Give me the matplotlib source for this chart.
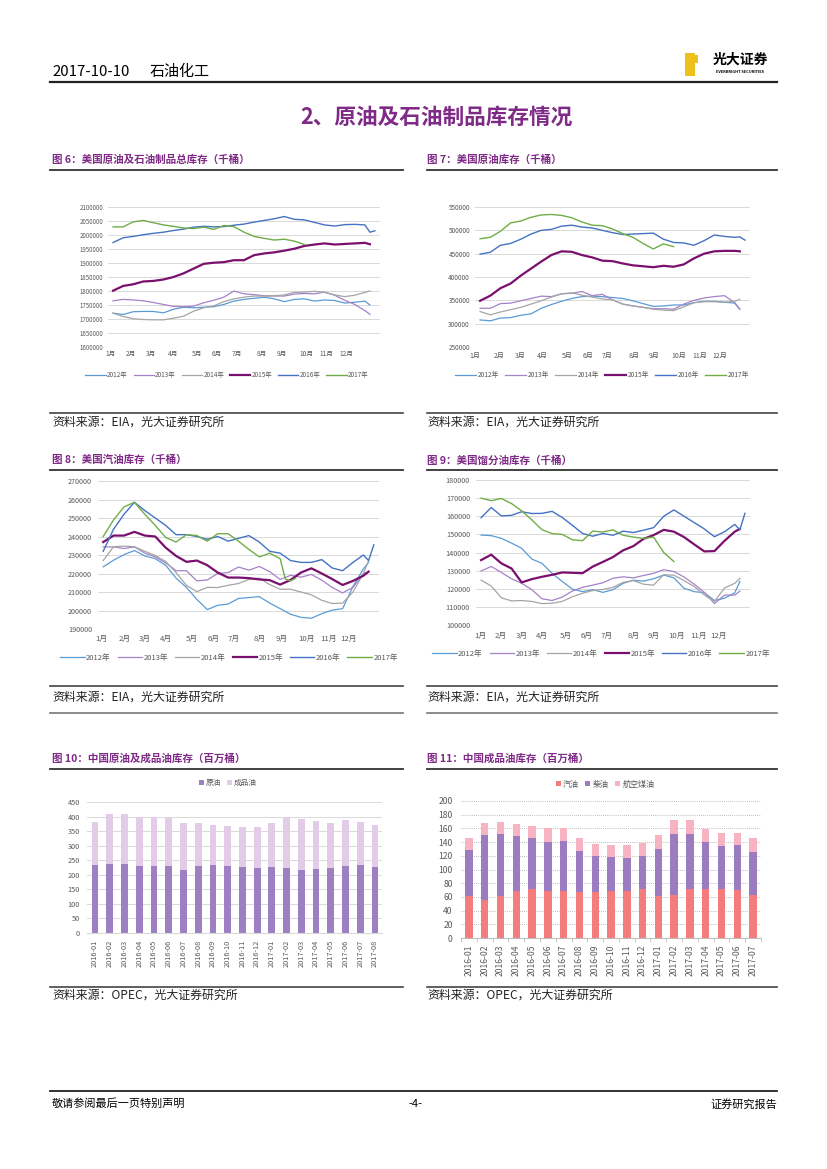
import matplotlib
matplotlib.use('Agg')
import matplotlib.pyplot as plt
from matplotlib.lines import Line2D
from matplotlib.patches import Rectangle
from matplotlib.ticker import FuncFormatter

plt.rcParams['font.family'] = ['Noto Sans CJK SC', 'DejaVu Sans']

# ---------------- data ----------------
years = ['2012年', '2013年', '2014年', '2015年', '2016年', '2017年']
months = ['1月', '2月', '3月', '4月', '5月', '6月', '7月', '8月', '9月', '10月', '11月', '12月']

# week index of each plotted point (biweekly reading of the weekly series)
weeks_old = [0, 2, 4, 6, 8, 10, 12, 14, 16, 18, 20, 22, 24, 26, 28, 30, 32, 34, 36, 38,
             40, 42, 44, 46, 48, 50, 51]
weeks_2016 = weeks_old + [52]
weeks_2017 = [0, 2, 4, 6, 8, 10, 12, 14, 16, 18, 20, 22, 24, 26, 28, 30, 32, 34, 36, 38]
weeks_2017_gas = [0, 2, 4, 6, 8, 10, 12, 14, 16, 18, 20, 22, 24, 26, 28, 30, 32, 34, 35, 36, 37]

# 图6 total stocks (千桶)
total_2012 = [1721000, 1716000, 1726000, 1727000, 1727000, 1722000, 1735000, 1742000, 1740000, 1742000,
              1744000, 1752000, 1764000, 1770000, 1774000, 1778000, 1772000, 1762000, 1770000, 1772000,
              1764000, 1768000, 1766000, 1757000, 1760000, 1764000, 1750000]
total_2013 = [1765000, 1770000, 1768000, 1765000, 1759000, 1752000, 1745000, 1744000, 1746000, 1758000,
              1767000, 1778000, 1800000, 1790000, 1787000, 1783000, 1782000, 1782000, 1789000, 1791000,
              1790000, 1796000, 1785000, 1767000, 1752000, 1730000, 1717000]
total_2014 = [1721000, 1709000, 1701000, 1698000, 1697000, 1697000, 1703000, 1710000, 1728000, 1740000,
              1747000, 1762000, 1772000, 1778000, 1782000, 1782000, 1783000, 1786000, 1795000, 1796000,
              1799000, 1795000, 1786000, 1780000, 1785000, 1795000, 1800000]
total_2015 = [1801000, 1818000, 1824000, 1834000, 1836000, 1841000, 1850000, 1863000, 1880000, 1897000,
              1901000, 1903000, 1910000, 1910000, 1928000, 1934000, 1938000, 1944000, 1951000, 1961000,
              1966000, 1970000, 1966000, 1968000, 1970000, 1972000, 1967000]
total_2016 = [1973000, 1990000, 1995000, 2001000, 2006000, 2010000, 2016000, 2021000, 2028000, 2031000,
              2029000, 2030000, 2035000, 2039000, 2046000, 2052000, 2058000, 2066000, 2056000, 2054000,
              2045000, 2036000, 2032000, 2037000, 2038000, 2036000, 2010000, 2015000]
total_2017 = [2029000, 2029000, 2047000, 2052000, 2044000, 2036000, 2031000, 2025000, 2023000, 2028000,
              2020000, 2034000, 2030000, 2010000, 1995000, 1988000, 1982000, 1985000, 1978000, 1966000]

# 图7 crude stocks (千桶)
crude_2012 = [308000, 306000, 312000, 313000, 318000, 321000, 333000, 341000, 348000, 354000,
              358000, 359000, 358000, 356000, 354000, 349000, 343000, 337000, 338000, 340000,
              340000, 345000, 348000, 348000, 346000, 344000, 331000]
crude_2013 = [333000, 333000, 343000, 344000, 349000, 354000, 359000, 358000, 364000, 365000,
              369000, 360000, 363000, 351000, 342000, 338000, 335000, 332000, 332000, 331000,
              342000, 350000, 355000, 358000, 360000, 345000, 331000]
crude_2014 = [326000, 319000, 325000, 330000, 335000, 342000, 349000, 357000, 364000, 366000,
              361000, 357000, 353000, 351000, 342000, 338000, 335000, 331000, 329000, 328000,
              336000, 345000, 347000, 347000, 346000, 348000, 352000]
crude_2015 = [349000, 360000, 376000, 386000, 403000, 418000, 433000, 447000, 455000, 454000,
              447000, 442000, 435000, 434000, 429000, 425000, 423000, 421000, 424000, 422000,
              427000, 440000, 450000, 455000, 456000, 456000, 455000]
crude_2016 = [449000, 453000, 468000, 472000, 481000, 492000, 500000, 502000, 509000, 511000,
              507000, 505000, 500000, 495000, 491000, 492000, 493000, 494000, 481000, 474000,
              473000, 468000, 478000, 490000, 487000, 485000, 486000, 479000]
crude_2017 = [482000, 485000, 498000, 516000, 520000, 528000, 533000, 534000, 532000, 527000,
              518000, 511000, 510000, 503000, 493000, 485000, 472000, 460000, 471000, 465000]

# 图8 gasoline stocks (千桶)
gas_2012 = [223600, 227200, 230200, 232400, 229500, 228000, 224500, 217500, 212500, 206000,
            200500, 202800, 203500, 206500, 207000, 207500, 204000, 201000, 198000, 196300,
            195800, 198300, 200200, 201000, 213000, 222500, 226000]
gas_2013 = [234400, 234400, 233500, 234400, 231000, 229000, 225800, 221500, 221500, 216000,
            216500, 220000, 220500, 223500, 221800, 223800, 221000, 216800, 219000, 218000,
            219500, 216400, 212500, 209500, 212500, 220000, 221000]
gas_2014 = [227000, 234500, 234800, 234500, 232000, 229700, 226500, 220500, 213600, 210200,
            212500, 212400, 213600, 214600, 216800, 217500, 214000, 211500, 211500, 210000,
            208500, 205500, 203800, 204000, 210000, 220000, 227000]
gas_2015 = [237000, 240500, 240500, 242500, 240500, 240000, 234000, 229500, 226300, 227000,
            224500, 220500, 217800, 217800, 217500, 216800, 216400, 214000, 216500, 220500,
            222800, 220000, 217000, 213800, 216000, 218800, 221000]
gas_2016 = [232000, 244000, 252000, 258500, 254000, 250000, 246000, 241000, 241000, 240000,
            238500, 240000, 237500, 239000, 240500, 237000, 232000, 231000, 227000, 226000,
            226000, 227500, 223000, 221500, 226000, 230000, 227000, 235500]
gas_2017 = [240000, 249000, 256000, 258500, 252000, 246000, 239500, 237000, 241000, 240500,
            237500, 241500, 241500, 237500, 233000, 229000, 231000, 228000, 217000, 216000, 217500]

# 图9 distillate stocks (千桶)
dist_2012 = [149600, 149300, 147800, 145200, 142300, 136400, 134000, 128500, 124000, 119800,
             118400, 119500, 118000, 119500, 123000, 124700, 124200, 125500, 127600, 126000,
             120300, 118400, 117800, 113500, 114800, 117800, 124000]
dist_2013 = [129800, 132300, 129000, 125500, 123000, 119500, 114500, 113500, 115400, 118800,
             120800, 122000, 123300, 125800, 126600, 126000, 127300, 128500, 130500, 129500,
             126500, 122500, 118000, 111800, 116500, 116500, 118700]
dist_2014 = [124800, 121500, 115000, 113300, 113500, 113000, 111800, 112000, 113000, 115600,
             117500, 119000, 119600, 120800, 123500, 124500, 122500, 122000, 127700, 127500,
             124500, 121200, 116500, 113000, 120500, 123000, 125700]
dist_2015 = [135800, 138800, 134000, 131200, 123500, 125300, 126600, 127700, 129000, 128800,
             128600, 132200, 134800, 137500, 141200, 143500, 147500, 149600, 152500, 151500,
             148500, 144500, 140600, 140800, 146500, 151500, 153000]
dist_2016 = [159200, 164800, 160200, 160500, 162500, 161500, 161600, 162700, 159300, 155000,
             150500, 149000, 150500, 149500, 151800, 151000, 152300, 153700, 160000, 163500,
             160000, 156500, 153000, 148700, 151500, 155500, 152500, 161600]
dist_2017 = [170000, 168600, 169800, 167000, 163000, 158000, 152600, 150400, 150000, 147000,
             146500, 151800, 151300, 152500, 149500, 148500, 147800, 148500, 140000, 135000]

# 图10 China crude / product stocks (百万桶)
cn_months = ['2016-01', '2016-02', '2016-03', '2016-04', '2016-05', '2016-06', '2016-07', '2016-08',
             '2016-09', '2016-10', '2016-11', '2016-12', '2017-01', '2017-02', '2017-03', '2017-04',
             '2017-05', '2017-06', '2017-07', '2017-08']
cn_crude = [233, 237, 237, 230, 230, 230, 216, 230, 233, 230, 227, 223, 227, 223, 216, 220, 223, 230, 233, 227]
cn_products = [147, 171, 171, 167, 167, 164, 163, 147, 139, 137, 136, 140, 150, 174, 175, 164, 154, 157, 147, 143]

# 图11 China product stocks by type (百万桶)
prod_months = cn_months[:19]
prod_gasoline = [61, 56, 62, 69, 71, 69, 68, 67, 67, 68, 68, 72, 62, 63, 71, 71, 71, 70, 63]
prod_diesel = [68, 94.5, 90, 80, 75, 71.3, 73.7, 60.2, 53, 50.4, 49, 48, 68, 89, 81, 69.3, 63.5, 66, 62.7]
prod_jet = [17.4, 17.5, 17.4, 17.5, 17.6, 20.4, 19, 18.8, 17.4, 17.6, 19, 18.8, 20.5, 20.3, 20.3, 18.9, 18.9, 17.4, 20.3]

# ---------------- style ----------------
W, H = 827, 1169
PURPLE = '#7E2A86'
GRAY_TXT = '#595959'
GRID = '#D9D9D9'
year_colors = ['#5B9BD5', '#A582C8', '#A5A5A5', '#7A0F6E', '#4472C4', '#70AD47']
year_widths = [0.9, 0.9, 0.9, 1.6, 1.0, 1.0]

fig = plt.figure(figsize=(W / 100, H / 100), dpi=100)


def box(l, t, r, b):
    return fig.add_axes([l / W, 1 - b / H, (r - l) / W, (b - t) / H])


def text(x, y, s, **kw):
    kw.setdefault('va', 'center')
    fig.text(x / W, 1 - y / H, s, **kw)


def hline(y, x0, x1, color='#333333', lw=1.2):
    fig.add_artist(Line2D([x0 / W, x1 / W], [1 - y / H, 1 - y / H], color=color, lw=lw))


def line_chart(rect, ylim, step, series, month_pos, xpad, ypad, fs, leg_xy, leg_fs):
    ax = box(*rect)
    handles = []
    for (name, wk, vals), c, lw in zip(series, year_colors, year_widths):
        h, = ax.plot(wk, vals, color=c, lw=lw, label=name, solid_joinstyle='round')
        handles.append(h)
    ax.set_xlim(-1, 53)
    ax.set_ylim(*ylim)
    ax.set_yticks(range(ylim[0], ylim[1] + 1, step))
    ax.yaxis.set_major_formatter(FuncFormatter(lambda v, p: '%d' % v))
    ax.set_xticks(month_pos)
    ax.set_xticklabels(months)
    ax.grid(axis='y', color=GRID, lw=0.7)
    ax.set_axisbelow(True)
    for s in ax.spines.values():
        s.set_visible(False)
    ax.tick_params(axis='y', length=0, pad=ypad, labelsize=fs, labelcolor=GRAY_TXT)
    ax.tick_params(axis='x', length=0, pad=xpad, labelsize=fs + 0.4, labelcolor=GRAY_TXT)
    fig.legend(handles=handles, loc='center', bbox_to_anchor=(leg_xy[0] / W, 1 - leg_xy[1] / H),
               ncol=6, frameon=False, fontsize=leg_fs, handlelength=3.2, handletextpad=0.2,
               columnspacing=0.9, labelcolor=GRAY_TXT)
    return ax


# ---------------- page header ----------------
text(52, 72, '2017-10-10', fontsize=10.8, color='black')
text(150, 72, '石油化工', fontsize=10.8, color='black')
hline(82, 50, 777, color='#222222', lw=1.6)
fig.add_artist(Rectangle((685 / W, 1 - 76 / H), 10 / W, 23 / H, color='#EDC01C', lw=0))
fig.add_artist(Rectangle((695 / W, 1 - 63 / H), 3 / W, 8 / H, color='#EDC01C', lw=0))
text(740, 60, '光大证券', fontsize=10, fontweight='bold', ha='center', color='black')
text(740, 72, 'EVERBRIGHT SECURITIES', fontsize=2.8, fontweight='bold', ha='center', color='black')

text(436, 117, '2、原油及石油制品库存情况', fontsize=15.6, fontweight='bold', ha='center', color=PURPLE)

# ---------------- titles, rules, sources ----------------
titles = [(52, 160, '图 6：美国原油及石油制品总库存（千桶）'),
          (427, 160, '图 7：美国原油库存（千桶）'),
          (52, 460, '图 8：美国汽油库存（千桶）'),
          (427, 460, '图 9：美国馏分油库存（千桶）'),
          (52, 759, '图 10：中国原油及成品油库存（百万桶）'),
          (427, 759, '图 11：中国成品油库存（百万桶）')]
for x, y, s in titles:
    text(x, y, s, fontsize=7.6, fontweight='bold', color=PURPLE)

for y in (170, 470, 769):
    hline(y, 50, 403, color='#333333', lw=1.3)
    hline(y, 427, 777, color='#333333', lw=1.3)
for y in (413, 686, 987):
    hline(y, 50, 403, color='#444444', lw=1.2)
    hline(y, 427, 777, color='#444444', lw=1.2)
hline(713, 50, 403, color='#777777', lw=1.2)
hline(713, 427, 777, color='#777777', lw=1.2)

for y, src in ((422, '资料来源：EIA，光大证券研究所'), (697, '资料来源：EIA，光大证券研究所'),
               (995, '资料来源：OPEC，光大证券研究所')):
    text(52, y, src, fontsize=8.6, color='#222222')
    text(427, y, src, fontsize=8.6, color='#222222')

# ---------------- line charts ----------------
line_chart((108, 207, 380, 347), (1600000, 2100000), 50000,
           [(years[0], weeks_old, total_2012), (years[1], weeks_old, total_2013),
            (years[2], weeks_old, total_2014), (years[3], weeks_old, total_2015),
            (years[4], weeks_2016, total_2016), (years[5], weeks_2017, total_2017)],
           [-0.5, 3.6, 7.6, 11.9, 16.6, 20.5, 24.5, 29.5, 33.5, 38.4, 42.4, 46.4],
           2.0, 3.6, 4.4, (227, 375), 4.6)

line_chart((475, 207, 750, 347), (250000, 550000), 50000,
           [(years[0], weeks_old, crude_2012), (years[1], weeks_old, crude_2013),
            (years[2], weeks_old, crude_2014), (years[3], weeks_old, crude_2015),
            (years[4], weeks_2016, crude_2016), (years[5], weeks_2017, crude_2017)],
           [-1, 3.8, 7.9, 12.2, 17.1, 21.1, 25, 30.3, 34.2, 39.1, 43.1, 47.1],
           3.5, 3.6, 4.6, (602, 375), 4.8)

line_chart((98, 481, 379, 629), (190000, 270000), 10000,
           [(years[0], weeks_old, gas_2012), (years[1], weeks_old, gas_2013),
            (years[2], weeks_old, gas_2014), (years[3], weeks_old, gas_2015),
            (years[4], weeks_2016, gas_2016), (years[5], weeks_2017_gas, gas_2017)],
           [-0.3, 4.2, 8, 12.1, 17, 21.2, 25, 30.1, 34.3, 39.1, 43.3, 47.1],
           4.2, 4.3, 5.2, (229, 658), 5.5)

line_chart((476, 480, 750, 625), (100000, 180000), 10000,
           [(years[0], weeks_old, dist_2012), (years[1], weeks_old, dist_2013),
            (years[2], weeks_old, dist_2014), (years[3], weeks_old, dist_2015),
            (years[4], weeks_2016, dist_2016), (years[5], weeks_2017, dist_2017)],
           [-0.2, 3.8, 8, 11.9, 16.6, 20.9, 24.8, 30.1, 34, 38.6, 42.9, 46.8],
           5.2, 4.3, 5.2, (601, 654), 5.5)

# ---------------- 图10 bars ----------------
ax10 = box(87, 802, 382, 933)
x10 = list(range(len(cn_months)))
b1 = ax10.bar(x10, cn_crude, width=0.46, color='#9C80C2', label='原油')
b2 = ax10.bar(x10, cn_products, width=0.46, bottom=cn_crude, color='#E3CCE8', label='成品油')
ax10.set_xlim(-0.54, 19.47)
ax10.set_ylim(0, 450)
ax10.set_yticks(range(0, 451, 50))
ax10.set_xticks(x10)
ax10.set_xticklabels(cn_months, rotation=90)
ax10.grid(axis='y', color=GRID, lw=0.7)
ax10.set_axisbelow(True)
for s in ('top', 'right', 'left'):
    ax10.spines[s].set_visible(False)
ax10.spines['bottom'].set_color(GRID)
ax10.tick_params(axis='y', length=0, pad=5, labelsize=5.3, labelcolor=GRAY_TXT)
ax10.tick_params(axis='x', length=0, pad=5, labelsize=5.3, labelcolor=GRAY_TXT)
fig.legend(handles=[b1, b2], loc='center', bbox_to_anchor=(228 / W, 1 - 783 / H), ncol=2,
           frameon=False, fontsize=5.5, handlelength=0.6, handleheight=0.6, handletextpad=0.3,
           columnspacing=0.8, labelcolor=GRAY_TXT)

# ---------------- 图11 bars ----------------
ax11 = box(461, 801, 761, 938)
x11 = list(range(len(prod_months)))
bottom_jet = [g + d for g, d in zip(prod_gasoline, prod_diesel)]
c1 = ax11.bar(x11, prod_gasoline, width=0.47, color='#F47C7C', label='汽油')
c2 = ax11.bar(x11, prod_diesel, width=0.47, bottom=prod_gasoline, color='#9B7CC1', label='柴油')
c3 = ax11.bar(x11, prod_jet, width=0.47, bottom=bottom_jet, color='#F7B3C2', label='航空煤油')
ax11.set_xlim(-0.5, 18.5)
ax11.set_ylim(0, 200)
ax11.set_yticks(range(0, 201, 20))
ax11.set_xticks(x11)
ax11.set_xticklabels(prod_months, rotation=90)
ax11.set_xticks([i - 0.5 for i in range(len(prod_months) + 1)], minor=True)
ax11.grid(axis='y', color='#A6A6A6', lw=0.6, ls=(0, (1, 1.5)))
ax11.set_axisbelow(True)
for s in ('top', 'right', 'left'):
    ax11.spines[s].set_visible(False)
ax11.spines['bottom'].set_color('#BFBFBF')
ax11.tick_params(axis='y', length=0, pad=6, labelsize=6.2, labelcolor=GRAY_TXT)
ax11.tick_params(axis='x', which='major', length=0, pad=5, labelsize=6.2, labelcolor=GRAY_TXT)
ax11.tick_params(axis='x', which='minor', length=3, color='#BFBFBF', width=0.6)
fig.legend(handles=[c1, c2, c3], loc='center', bbox_to_anchor=(605 / W, 1 - 784 / H), ncol=3,
           frameon=False, fontsize=5.8, handlelength=0.6, handleheight=0.6, handletextpad=0.3,
           columnspacing=0.8, labelcolor=GRAY_TXT)

# ---------------- footer ----------------
hline(1091, 50, 777, color='#222222', lw=1.3)
text(52, 1104, '敬请参阅最后一页特别声明', fontsize=8, color='black')
text(415, 1104, '-4-', fontsize=8, ha='center', color='black')
text(777, 1104, '证券研究报告', fontsize=8, ha='right', color='black')

fig.savefig('out.png', dpi=100)
